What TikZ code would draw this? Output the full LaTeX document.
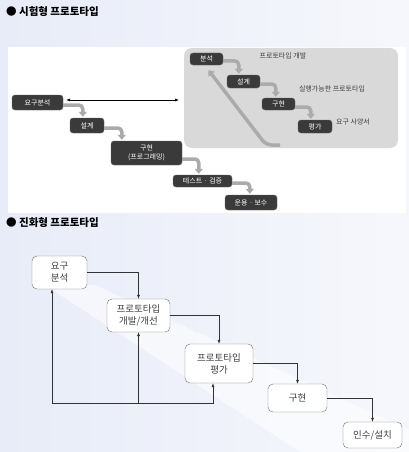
\documentclass[tikz,border=0pt]{standalone}
\usepackage{fontspec}
\setmainfont{Noto Sans CJK KR}
\usetikzlibrary{arrows.meta}
\definecolor{bgblue}{RGB}{232,236,248}
\definecolor{darkbox}{RGB}{58,58,58}
\begin{document}
\begin{tikzpicture}[x=1pt,y=-1pt,
    dark/.style={rounded corners=3pt,fill=darkbox,draw=black!60,text=white,inner sep=0pt,font=\fontsize{7}{8.5}\selectfont,align=center},
    soft/.style={rounded corners=5pt,fill=white,draw=black!55,inner sep=0pt,font=\fontsize{9.5}{12}\selectfont,text=black!75,align=center},
    garrow/.style={draw=black!33,line width=3.5pt,rounded corners=4pt,-{Triangle[width=8pt,length=5pt]}},
    lbl/.style={font=\fontsize{7}{8}\selectfont,text=black!75,inner sep=0pt},
    ttl/.style={font=\bfseries\fontsize{10.5}{12}\selectfont,anchor=west,inner sep=0pt},
    thin/.style={-{Latex[length=4pt,width=3pt]},black!80,line width=0.5pt}]
\useasboundingbox(0,0)rectangle(409,452);
\fill[left color=bgblue,right color=bgblue!40](0,0)rectangle(409,452);
\fill[white](8,47)rectangle(406,213);
\fill[white,opacity=.55](45,285)--(95,285)--(409,430)--(409,452)--(300,452)--cycle;
% 시험형
\node[ttl](t1) at (6,12){● 시험형 프로토타입};
\fill[black!15,rounded corners=8pt](184,48)rectangle(398,148);
\node[dark,minimum width=51,minimum height=15](req) at (37.5,102.5){요구분석};
\node[dark,minimum width=34,minimum height=15](des) at (87,125.5){설계};
\node[dark,minimum width=71,minimum height=24](imp) at (146.5,153){구현\\(프로그래밍)};
\node[dark,minimum width=59,minimum height=12](tst) at (202.5,181){테스트 · 검증};
\node[dark,minimum width=52,minimum height=15](ops) at (251,202.5){운용 · 보수};
\node[dark,minimum width=33,minimum height=12](an) at (206.5,59){분석};
\node[dark,minimum width=33,minimum height=13](ds) at (243.5,81.5){설계};
\node[dark,minimum width=33,minimum height=12](im) at (278.5,104){구현};
\node[dark,minimum width=34,minimum height=13](pg) at (315,126.5){평가};
\node[lbl](lbdev) at (283,56){프로토타입 개발};
\node[lbl](lbexe) at (332,89){실행가능한 프로토타입};
\node[lbl](lbspec) at (353,122){요구 사양서};
\draw[garrow]([yshift=-2.5]req.east)-|([xshift=13,yshift=1]des.north west);
\draw[garrow]([yshift=-2.5]des.east)-|([xshift=11,yshift=1]imp.north west);
\draw[garrow]([yshift=-6]imp.east)-|([xshift=26,yshift=1]tst.north west);
\draw[garrow]([yshift=-2]tst.east)-|([xshift=25,yshift=1]ops.north west);
\draw[garrow]([yshift=-2]an.east)-|([xshift=12,yshift=1]ds.north west);
\draw[garrow]([yshift=-2.5]ds.east)-|([xshift=14,yshift=1]im.north west);
\draw[garrow]([yshift=-3]im.east)-|([xshift=13,yshift=1]pg.north west);
\coordinate(ret) at (280,145);
\draw[garrow,rounded corners=6pt](ret)--(266,145)--([xshift=2,yshift=-5]an.south);
\coordinate(box) at (179,100);
\draw[{Latex[length=4pt,width=3pt]}-{Latex[length=4pt,width=3pt]},line width=0.6pt]([xshift=3,yshift=2.5]req.east)--(box);
% 진화형
\node[ttl](t2) at (6,223){● 진화형 프로토타입};
\node[soft,minimum width=55,minimum height=33](rq) at (59.5,272.5){요구\\분석};
\node[soft,minimum width=63,minimum height=33](dv) at (138.5,315.5){프로토타입\\개발/개선};
\node[soft,minimum width=68,minimum height=39](ev) at (219,363.5){프로토타입\\평가};
\node[soft,minimum width=59,minimum height=28](mk) at (297.5,398){구현};
\node[soft,minimum width=59,minimum height=26](in) at (372.5,435){인수/설치};
\draw[thin](rq.east)-|(dv.north);
\draw[thin](dv.east)-|(ev.north);
\draw[thin](ev.east)-|(mk.north);
\draw[thin](mk.east)-|(in.north);
\coordinate(fb) at (52,403);
\draw[thin](fb)--(fb|-rq.south);
\draw[thin](fb)-|([xshift=-6]ev.south);
\draw[thin](dv.south|-fb)--(dv.south);
\end{tikzpicture}
\end{document}
